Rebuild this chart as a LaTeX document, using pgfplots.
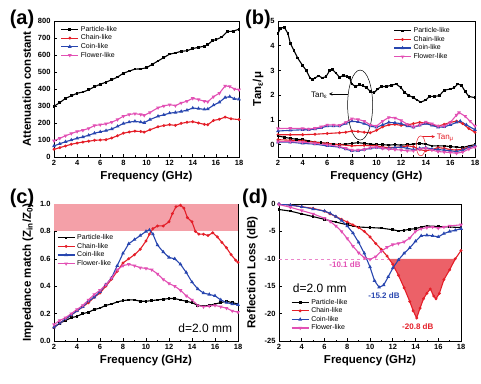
\documentclass[border=0pt]{standalone}
\usepackage{fontspec}
\setmainfont{Liberation Sans}
\usepackage{pgfplots}
\pgfplotsset{compat=1.18}
\definecolor{cred}{RGB}{228,30,40}
\definecolor{cblue}{RGB}{40,70,175}
\definecolor{cpink}{RGB}{226,80,180}
\definecolor{band}{RGB}{244,160,168}
\pgfplotsset{
 panel/.style={scale only axis, anchor=south west, xmin=2, xmax=18, xtick={2,4,...,18}, minor x tick num=1,
  tick align=inside, xtick pos=left, ytick pos=left, axis line style={line width=0.7pt},
  major tick length=3pt, minor tick length=1.5pt, every tick/.style={black, line width=0.6pt},
  ticklabel style={font=\bfseries\fontsize{7.5}{8.5}\selectfont},
  /pgf/number format/assume math mode=true,
  label style={font=\bfseries\fontsize{11.5}{13}\selectfont},
  xlabel={Frequency (GHz)},
  xlabel style={yshift=2pt},
  legend style={draw=none, fill=none, font=\fontsize{7}{8}\selectfont, row sep=-2pt, inner sep=1pt},
  legend cell align=left},
 sA/.style={black, line width=1.1pt, mark=square*, mark size=0.8pt, mark options={solid}},
 sB/.style={cred, line width=1.1pt, mark=*, mark size=0.85pt, mark options={solid}},
 sC/.style={cblue, line width=1.1pt, mark=triangle*, mark size=1.1pt, mark options={solid}},
 sD/.style={cpink, line width=1.1pt, mark=triangle*, mark size=1.1pt, mark options={solid, rotate=180}},
}
\begin{document}
\begin{tikzpicture}
\path[use as bounding box] (0pt,0pt) rectangle (481pt,383pt);
% ---------------- (a)
\begin{axis}[panel, at={(54pt,226pt)}, width=185pt, height=136pt, ymin=0, ymax=800, ytick={0,100,...,800},
  ylabel={Attenuation constant}, legend style={at={(0.03,0.985)}, anchor=north west}]
\addplot[sA] coordinates {(2,298)(2.5,320)(3,345)(3.5,360)(4,375)(4.5,382)(5,395)(5.5,413)(6,428)(6.5,440)(7,455)(7.5,470)(8,493)(8.5,505)(9,517)(9.5,518)(10,525)(10.5,545)(11,565)(11.5,585)(12,605)(12.5,612)(13,622)(13.5,625)(14,638)(14.5,645)(15,652)(15.3,660)(15.7,685)(16,690)(16.5,705)(17,738)(17.5,740)(18,752)};
\addlegendentry{Particle-like}
\addplot[sB] coordinates {(2,45)(2.5,55)(3,65)(3.5,75)(4,82)(4.5,88)(5,93)(5.5,98)(6,100)(6.5,102)(7,112)(7.5,125)(8,140)(8.5,147)(9,152)(9.5,150)(9.8,146)(10.3,160)(11,178)(11.5,185)(12,190)(12.5,186)(13,198)(13.5,204)(14,208)(14.5,200)(15,192)(15.3,190)(15.8,215)(16.3,222)(16.8,235)(17.3,225)(18,220)};
\addlegendentry{Chain-like}
\addplot[sC] coordinates {(2,65)(2.5,78)(3,90)(3.5,100)(4,110)(4.5,118)(5,128)(5.5,140)(6,148)(6.5,155)(7,165)(7.5,180)(8,197)(8.5,205)(9,210)(9.5,205)(9.8,202)(10.3,220)(11,240)(11.5,248)(12,258)(12.5,262)(13,268)(13.5,275)(14,288)(14.5,285)(15,280)(15.3,282)(15.8,305)(16.3,322)(16.8,350)(17.2,355)(17.6,342)(18,340)};
\addlegendentry{Coin-like}
\addplot[sD] coordinates {(2,95)(2.5,110)(3,125)(3.5,138)(4,150)(4.5,157)(5,168)(5.5,185)(6,190)(6.5,195)(7,205)(7.5,220)(8,240)(8.5,250)(9,255)(9.5,250)(9.8,245)(10.3,262)(11,290)(11.5,300)(12,308)(12.5,302)(13,318)(13.5,328)(14,345)(14.5,338)(15,328)(15.3,325)(15.8,355)(16.3,375)(16.8,418)(17.2,415)(17.6,400)(18,395)};
\addlegendentry{Flower-like}
\end{axis}
% ---------------- (b)
\begin{axis}[panel, at={(278pt,226pt)}, width=197pt, height=136pt, ymin=-0.5, ymax=5, ytick={0,1,...,5},
  ylabel={Tan\textsubscript{ε}/μ}, legend style={at={(0.58,0.975)}, anchor=north west}]
\addplot[sA] coordinates {(2,4.5)(2.2,4.7)(2.5,4.75)(2.8,4.5)(3,4.1)(3.3,3.8)(3.6,3.5)(4,3.2)(4.3,3.0)(4.6,2.7)(4.8,2.62)(5,2.7)(5.3,2.78)(5.6,2.7)(5.9,2.75)(6.2,3.0)(6.4,3.05)(6.7,2.9)(7,2.72)(7.3,2.8)(7.6,2.75)(7.8,2.72)(8,2.45)(8.3,2.35)(8.6,2.42)(8.9,2.38)(9.2,2.3)(9.5,2.15)(9.8,2.1)(10.1,2.25)(10.4,2.35)(10.8,2.35)(11.2,2.4)(11.6,2.45)(12,2.3)(12.3,2.1)(12.6,2.0)(13,1.9)(13.3,1.8)(13.6,1.72)(14,1.8)(14.3,1.95)(14.7,1.95)(15.1,1.98)(15.5,2.2)(16,2.25)(16.3,2.3)(16.6,2.45)(16.9,2.4)(17.2,2.15)(17.5,1.95)(18,1.9)};
\addlegendentry{Particle-like}
\addplot[sB] coordinates {(2,0.4)(3,0.4)(4,0.4)(5,0.42)(6,0.45)(7,0.48)(7.5,0.5)(8,0.55)(8.5,0.53)(9,0.5)(9.5,0.48)(10,0.58)(10.5,0.72)(11,0.8)(11.5,0.82)(12,0.78)(12.5,0.8)(13,0.85)(13.5,0.9)(14,0.88)(14.5,0.8)(15,0.75)(15.5,0.82)(16,0.9)(16.5,0.95)(17,0.85)(17.5,0.65)(18,0.5)};
\addlegendentry{Chain-like}
\addplot[sC] coordinates {(2,0.55)(3,0.58)(4,0.6)(4.5,0.6)(5,0.63)(5.5,0.68)(6,0.75)(6.5,0.75)(7,0.75)(7.5,0.85)(8,0.95)(8.5,0.92)(9,0.85)(9.5,0.75)(10,0.7)(10.5,0.8)(11,0.9)(11.5,0.88)(12,0.85)(12.5,0.75)(13,0.7)(13.5,0.78)(14,0.85)(14.5,0.78)(15,0.7)(15.5,0.72)(16,0.8)(16.5,0.9)(16.8,0.95)(17.3,0.8)(18,0.6)};
\addlegendentry{Coin-like}
\addplot[sD] coordinates {(2,0.65)(3,0.66)(4,0.65)(4.5,0.63)(5,0.66)(5.5,0.72)(6,0.8)(6.5,0.8)(7,0.78)(7.5,0.9)(8,1.05)(8.5,1.02)(9,0.95)(9.5,0.8)(10,0.75)(10.5,0.95)(11,1.1)(11.5,1.08)(12,0.98)(12.5,0.82)(13,0.72)(13.5,0.8)(14,0.92)(14.5,0.85)(15,0.75)(15.5,0.75)(16,0.9)(16.5,1.2)(16.7,1.3)(17.2,1.15)(17.6,0.95)(18,0.75)};
\addlegendentry{Flower-like}
\addplot[sA, forget plot] coordinates {(2,0.35)(2.5,0.3)(3,0.25)(3.5,0.22)(4,0.2)(4.5,0.15)(5,0.1)(5.5,0.08)(6,0.05)(6.5,0.02)(7,0.0)(7.5,0.02)(8,0.05)(8.5,0.08)(9,0.05)(9.5,0.02)(10,0.0)(10.5,0.0)(11,-0.02)(11.5,0.0)(12,-0.02)(12.5,0.0)(13,0.02)(13.5,0.05)(14,0.02)(14.5,-0.05)(15,-0.05)(15.5,-0.05)(16,-0.08)(16.5,-0.1)(17,-0.12)(17.5,-0.05)(18,0.0)};
\addplot[sB, forget plot] coordinates {(2,0.2)(3,0.18)(4,0.15)(5,0.1)(6,0.05)(7,0.0)(8,-0.05)(9,-0.03)(10,-0.05)(10.5,-0.1)(11,-0.12)(12,-0.1)(12.5,-0.05)(13,-0.08)(13.5,-0.2)(14,-0.25)(14.5,-0.2)(15,-0.12)(15.5,-0.15)(16,-0.2)(16.5,-0.22)(17,-0.18)(17.5,-0.1)(18,-0.05)};
\addplot[sC, forget plot] coordinates {(2,0.1)(3,0.1)(4,0.05)(5,0.02)(6,-0.05)(7,-0.1)(7.5,-0.18)(8,-0.25)(8.5,-0.25)(9,-0.2)(9.5,-0.15)(10,-0.12)(10.5,-0.15)(11,-0.15)(11.5,-0.12)(12,-0.1)(12.5,-0.15)(13,-0.2)(13.5,-0.15)(14,-0.12)(14.5,-0.18)(15,-0.2)(15.5,-0.22)(16,-0.25)(16.5,-0.28)(17,-0.22)(17.5,-0.12)(18,-0.05)};
\addplot[sD, forget plot] coordinates {(2,0.12)(3,0.12)(4,0.1)(5,0.05)(6,0.0)(7,-0.08)(7.5,-0.15)(8,-0.22)(8.5,-0.22)(9,-0.2)(9.5,-0.12)(10,-0.1)(10.5,-0.15)(11,-0.18)(11.5,-0.2)(12,-0.22)(12.5,-0.25)(13,-0.25)(13.5,-0.18)(14,-0.15)(14.5,-0.22)(15,-0.28)(15.5,-0.3)(16,-0.32)(16.5,-0.35)(17,-0.3)(17.5,-0.18)(18,-0.1)};
\draw[black, line width=0.5pt] (axis cs:8.67,1.6) ellipse [x radius=12.5pt, y radius=35pt];
\draw[black, line width=0.5pt, -stealth] (axis cs:7.67,2.05) -- (axis cs:6.15,2.05);
\node[anchor=east, inner sep=1pt, font=\fontsize{8}{9}\selectfont] at (axis cs:6.1,2.0) {Tan\textsubscript{ε}};
\draw[cred, line width=0.5pt] (axis cs:13.6,-0.05) ellipse [x radius=4.5pt, y radius=10pt];
\draw[cred, line width=0.5pt, -stealth] (axis cs:13.8,0.32) -- (axis cs:14.75,0.32);
\node[anchor=west, inner sep=1pt, text=cred, font=\fontsize{8}{9}\selectfont] at (axis cs:14.8,0.28) {Tan\textsubscript{μ}};
\end{axis}
% ---------------- (c)
\begin{axis}[panel, at={(54pt,42pt)}, width=184pt, height=137pt, ymin=0, ymax=1, ytick={0,0.2,0.4,0.6,0.8,1.0},
  yticklabel style={/pgf/number format/.cd, fixed, fixed zerofill, precision=1},
  ylabel={Impedance match (Z\textsubscript{in}/Z\textsubscript{0})}, legend style={at={(0.01,0.80)}, anchor=north west}]
\addplot[fill=band, draw=none, forget plot] coordinates {(2,0.8)(18,0.8)(18,1.0)(2,1.0)} -- cycle;
\addplot[sA] coordinates {(2,0.1)(2.5,0.13)(3,0.15)(3.5,0.17)(4,0.18)(4.5,0.2)(5,0.21)(5.5,0.23)(6,0.24)(6.5,0.26)(7,0.27)(7.5,0.285)(8,0.295)(8.5,0.3)(9,0.3)(9.5,0.29)(10,0.29)(10.5,0.295)(11,0.3)(11.5,0.305)(12,0.31)(12.5,0.31)(13,0.3)(13.5,0.29)(14,0.28)(14.5,0.26)(15,0.255)(15.5,0.26)(16,0.27)(16.5,0.28)(17,0.29)(17.5,0.28)(18,0.27)};
\addlegendentry{Particle-like}
\addplot[sB] coordinates {(2,0.1)(2.5,0.13)(3,0.16)(3.5,0.19)(4,0.22)(4.5,0.25)(5,0.28)(5.5,0.32)(6,0.35)(6.5,0.4)(7,0.45)(7.5,0.51)(8,0.57)(8.5,0.6)(9,0.63)(9.5,0.67)(10,0.73)(10.3,0.78)(10.6,0.82)(11,0.84)(11.5,0.84)(12,0.87)(12.3,0.93)(12.6,0.98)(13,0.99)(13.3,0.97)(13.6,0.9)(14,0.87)(14.3,0.8)(14.6,0.78)(15,0.78)(15.4,0.77)(15.8,0.79)(16.2,0.76)(16.6,0.72)(17,0.68)(17.4,0.63)(17.8,0.59)(18,0.575)};
\addlegendentry{Chain-like}
\addplot[sC] coordinates {(2,0.1)(2.5,0.13)(3,0.16)(3.5,0.19)(4,0.22)(4.5,0.25)(5,0.29)(5.5,0.32)(6,0.36)(6.5,0.41)(7,0.46)(7.5,0.55)(8,0.64)(8.5,0.71)(9,0.74)(9.5,0.77)(10,0.8)(10.3,0.81)(10.6,0.78)(11,0.7)(11.5,0.65)(12,0.61)(12.5,0.6)(13,0.56)(13.5,0.5)(14,0.43)(14.5,0.38)(15,0.35)(15.5,0.34)(16,0.33)(16.5,0.3)(17,0.28)(17.5,0.27)(18,0.265)};
\addlegendentry{Coin-like}
\addplot[sD] coordinates {(2,0.12)(2.5,0.15)(3,0.17)(3.5,0.2)(4,0.23)(4.5,0.26)(5,0.3)(5.5,0.34)(6,0.37)(6.5,0.41)(7,0.46)(7.5,0.52)(8,0.55)(8.5,0.56)(9,0.55)(9.5,0.535)(10,0.53)(10.5,0.52)(11,0.49)(11.5,0.45)(12,0.42)(12.5,0.4)(13,0.37)(13.5,0.33)(14,0.3)(14.5,0.26)(15,0.25)(15.5,0.255)(16,0.26)(16.5,0.25)(17,0.24)(17.5,0.22)(18,0.21)};
\addlegendentry{Flower-like}
\node[anchor=east, inner sep=0pt, font=\fontsize{12}{14}\selectfont] at (axis cs:17.5,0.095) {d=2.0 mm};
\end{axis}
% ---------------- (d)
\begin{axis}[panel, at={(279pt,42pt)}, width=182pt, height=137pt, ymin=-25, ymax=0, ytick={-25,-20,-15,-10,-5,0},
  ylabel={Reflection Loss (dB)}, legend style={at={(0.06,0.33)}, anchor=north west}]
\addplot[fill=cred, fill opacity=0.7, draw=none, forget plot] coordinates {(11.67,-10)(12,-11.0)(12.5,-13.0)(13,-15.3)(13.5,-17.8)(13.8,-19.5)(14.1,-20.8)(14.4,-19.0)(14.7,-17.3)(15,-16.3)(15.3,-15.5)(15.6,-16.8)(15.8,-17.3)(16.1,-16.3)(16.5,-13.8)(17,-12.0)(17.5,-10.0)} -- cycle;
\draw[cpink!70, dashed, line width=0.5pt] (axis cs:2,-10) -- (axis cs:11.67,-10);
\addplot[sA] coordinates {(2,-1.0)(3,-1.3)(4,-1.8)(5,-2.3)(6,-2.8)(7,-3.3)(8,-3.8)(8.5,-4.0)(9,-4.2)(10,-4.3)(11,-4.4)(12,-4.7)(12.5,-4.9)(13,-4.8)(13.5,-4.6)(14,-4.5)(14.5,-4.2)(15,-4.0)(16,-4.1)(17,-4.2)(18,-4.3)};
\addlegendentry{Particle-like}
\addplot[sB] coordinates {(2,0)(3,-0.2)(4,-0.5)(5,-0.8)(6,-1.3)(6.5,-1.8)(7,-2.3)(7.5,-2.8)(8,-3.3)(8.5,-3.8)(9,-4.3)(9.5,-5.0)(10,-6.0)(10.5,-7.2)(11,-8.3)(11.5,-9.5)(12,-11.0)(12.5,-13.0)(13,-15.3)(13.5,-17.8)(13.8,-19.5)(14.1,-20.8)(14.4,-19.0)(14.7,-17.3)(15,-16.3)(15.3,-15.5)(15.6,-16.8)(15.8,-17.3)(16.1,-16.3)(16.5,-13.8)(17,-12.0)(17.5,-10.0)(18,-8.5)};
\addlegendentry{Chain-like}
\addplot[sC] coordinates {(2,0)(3,-0.2)(4,-0.5)(5,-0.9)(6,-1.3)(6.5,-1.7)(7,-2.3)(7.5,-3.0)(8,-4.0)(8.5,-5.3)(9,-7.0)(9.5,-9.0)(10,-11.5)(10.4,-14.0)(10.8,-15.2)(11.2,-14.8)(11.6,-13.3)(12,-11.7)(12.5,-10.2)(13,-9.0)(13.5,-8.0)(14,-6.8)(14.5,-5.8)(15,-5.7)(15.5,-5.8)(16,-6.0)(16.5,-5.4)(17,-5.0)(17.5,-4.8)(18,-4.5)};
\addlegendentry{Coin-like}
\addplot[sD] coordinates {(2,-0.1)(3,-0.6)(4,-1.2)(5,-1.8)(6,-2.6)(6.5,-3.2)(7,-4.0)(7.5,-5.0)(8,-6.3)(8.5,-7.7)(9,-8.9)(9.5,-9.8)(10,-10.1)(10.5,-9.6)(11,-8.6)(11.5,-7.9)(12,-7.4)(12.5,-7.2)(13,-6.9)(13.5,-6.2)(14,-5.0)(14.5,-4.5)(15,-4.3)(15.5,-4.2)(16,-4.4)(16.5,-4.2)(17,-4.0)(18,-3.8)};
\addlegendentry{Flower-like}
\node[text=cpink, font=\bfseries\fontsize{8}{9}\selectfont] at (axis cs:7.8,-11.1) {-10.1 dB};
\node[text=cblue, font=\bfseries\fontsize{8}{9}\selectfont] at (axis cs:11.23,-16.8) {-15.2 dB};
\node[text=cred, font=\bfseries\fontsize{8}{9}\selectfont] at (axis cs:14.2,-22.4) {-20.8 dB};
\node[anchor=west, inner sep=0pt, font=\fontsize{12}{14}\selectfont] at (axis cs:3.2,-15.3) {d=2.0 mm};
\end{axis}
% panel labels
\node[font=\bfseries\fontsize{20}{22}\selectfont] at (22pt,364pt) {(a)};
\node[font=\bfseries\fontsize{20}{22}\selectfont] at (258pt,364pt) {(b)};
\node[font=\bfseries\fontsize{20}{22}\selectfont] at (22pt,185pt) {(c)};
\node[font=\bfseries\fontsize{20}{22}\selectfont] at (255pt,185pt) {(d)};
\end{tikzpicture}
\end{document}
